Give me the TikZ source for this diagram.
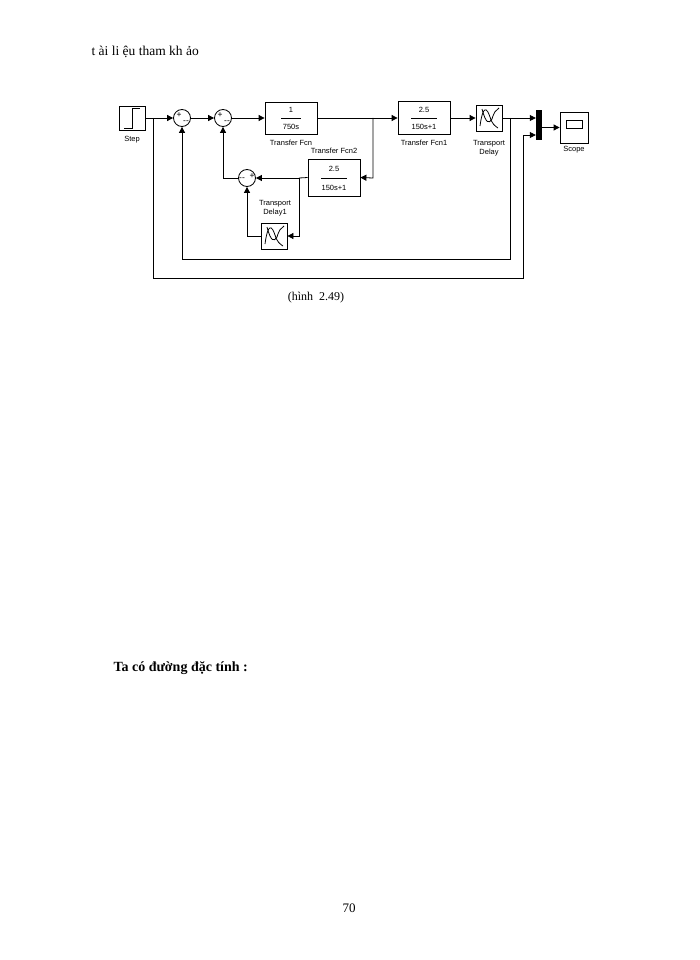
\documentclass[tikz,border=0pt]{standalone}
\usepackage{fontspec}
\setmainfont{Liberation Serif}
\newfontfamily\arial{Liberation Sans}
\usetikzlibrary{arrows.meta}
\begin{document}
\begin{tikzpicture}[x=1pt,y=-1pt,
  blk/.style={draw,fill=white,inner sep=0,line width=0.8pt},
  lbl/.style={font=\arial\fontsize{7.5}{8.5}\selectfont,align=center},
  sg/.style={font=\arial\fontsize{8.5}{8.5}\selectfont,inner sep=0},
  sm/.style={draw,circle,minimum size=17pt,inner sep=0,line width=0.8pt},
  sig/.style={-{Triangle[length=6pt,width=6pt]},line width=0.8pt},
  wire/.style={line width=0.8pt}]
\path[fill=white] (0,0) rectangle (700,960);
\node[anchor=west,font=\fontsize{13.5}{15}\selectfont] (hdr) at (88,52) {t ài li ệu tham kh ảo};
% blocks
\node[blk,minimum width=26pt,minimum height=24pt] (step) at (132,118) {};
\draw[wire] (124,128) -- (132,128) -- (132,108) -- (140,108);
\node[lbl,below=2pt] (steplbl) at (step.south) {Step};
\node[sm] (s1) at (182,118) {};
\node[sg] (s1p) at (179,115) {+};
\node[sg] (s1m) at (186,122) {--};
\node[sm] (s2) at (223,118) {};
\node[sg] (s2p) at (220,115) {+};
\node[sg] (s2m) at (227,122) {--};
\node[blk,minimum width=52pt,minimum height=32pt] (tf) at (291,118) {};
\node[lbl] (tfn) at (291,110) {1};
\draw[wire] (281,118) -- (301,118);
\node[lbl] (tfd) at (291,127) {750s};
\node[lbl,below=2pt] (tfl) at (tf.south) {Transfer Fcn};
\node[blk,minimum width=52pt,minimum height=33pt] (tf1) at (424,118) {};
\node[lbl] (tf1n) at (424,110) {2.5};
\draw[wire] (411,118) -- (437,118);
\node[lbl] (tf1d) at (424,127) {150s+1};
\node[lbl,below=2pt] (tf1l) at (tf1.south) {Transfer Fcn1};
\node[blk,minimum width=26pt,minimum height=26pt] (td) at (489,118) {};
\node[lbl] (tdl) at (489,148) {Transport\\Delay};
\node[draw,fill=black,minimum width=5pt,minimum height=29pt,inner sep=0] (mux) at (538.5,124.5) {};
\node[blk,minimum width=28pt,minimum height=31pt] (scope) at (574,127.5) {};
\draw[wire] (566,120) rectangle (582,128);
\node[lbl] (scl) at (574,150) {Scope};
\node[blk,minimum width=52pt,minimum height=37pt] (tf2) at (334,177.5) {};
\node[lbl] (tf2n) at (334,169) {2.5};
\draw[wire] (321,178) -- (347,178);
\node[lbl] (tf2d) at (334,188) {150s+1};
\node[lbl,above=1pt] (tf2l) at (tf2.north) {Transfer Fcn2};
\node[sm] (s3) at (247,178) {};
\node[sg] (s3m) at (242,179) {--};
\node[sg] (s3p) at (252,176) {+};
\node[blk,minimum width=26pt,minimum height=26pt] (td1) at (274,236) {};
\node[lbl] (td1l) at (275,208) {Transport\\Delay1};
% delay icons
\foreach \c in {td,td1}{
  \draw[wire] ([shift={(-9,8)}]\c.center) .. controls ([shift={(-6,-14)}]\c.center) and ([shift={(-2,-10)}]\c.center) .. ([shift={(1,-1)}]\c.center) .. controls ([shift={(3,6)}]\c.center) and ([shift={(6,8)}]\c.center) .. ([shift={(9,10)}]\c.center);
  \draw[wire] ([shift={(-7,-9)}]\c.center) .. controls ([shift={(-3,6)}]\c.center) and ([shift={(0,6)}]\c.center) .. ([shift={(3,1)}]\c.center) .. controls ([shift={(5,-6)}]\c.center) and ([shift={(7,-8)}]\c.center) .. ([shift={(10,-10)}]\c.center);
}
% wires
\coordinate (b0) at (153,118);
\coordinate (b1) at (373,118);
\coordinate (b2) at (299,178);
\coordinate (b3) at (510,118);
\draw[wire] (step.east) -- (b0);
\draw[sig] (b0) -- (s1.west);
\draw[sig] (s1.east) -- (s2.west);
\draw[sig] (s2.east) -- (tf.west);
\draw[wire] (tf.east) -- (b1);
\draw[sig] (b1) -- (tf1.west);
\draw[sig] (tf1.east) -- (td.west);
\draw[wire] (td.east) -- (b3);
\draw[sig] (b3) -- (mux.west |- b3);
\draw[sig] (mux.east |- scope.west) -- (scope.west);
\draw[sig] (b1) -- (373,178) -- (tf2.east);
\draw[wire] (tf2.west) -- (b2);
\draw[sig] (b2) -- (s3.east);
\draw[sig] (b2) -- (299,236) -- (td1.east);
\draw[sig] (td1.west) -- (247,236) -- (s3.south);
\draw[sig] (s3.west) -- (223,178) -- (s2.south);
\draw[sig] (b3) -- (510,259) -- (182,259) -- (s1.south);
\draw[sig] (b0) -- (153,278) -- (523,278) -- (523,135) -- (mux.west |- 0,135);
\node[font=\fontsize{12}{14}\selectfont] (cap) at (316,298) {(hình\ \ 2.49)};
\node[anchor=west,font=\bfseries\fontsize{14}{16}\selectfont] (ta) at (110,668) {Ta có đường đặc tính :};
\node[font=\fontsize{13}{15}\selectfont] (pg) at (349,908) {70};
\end{tikzpicture}
\end{document}
